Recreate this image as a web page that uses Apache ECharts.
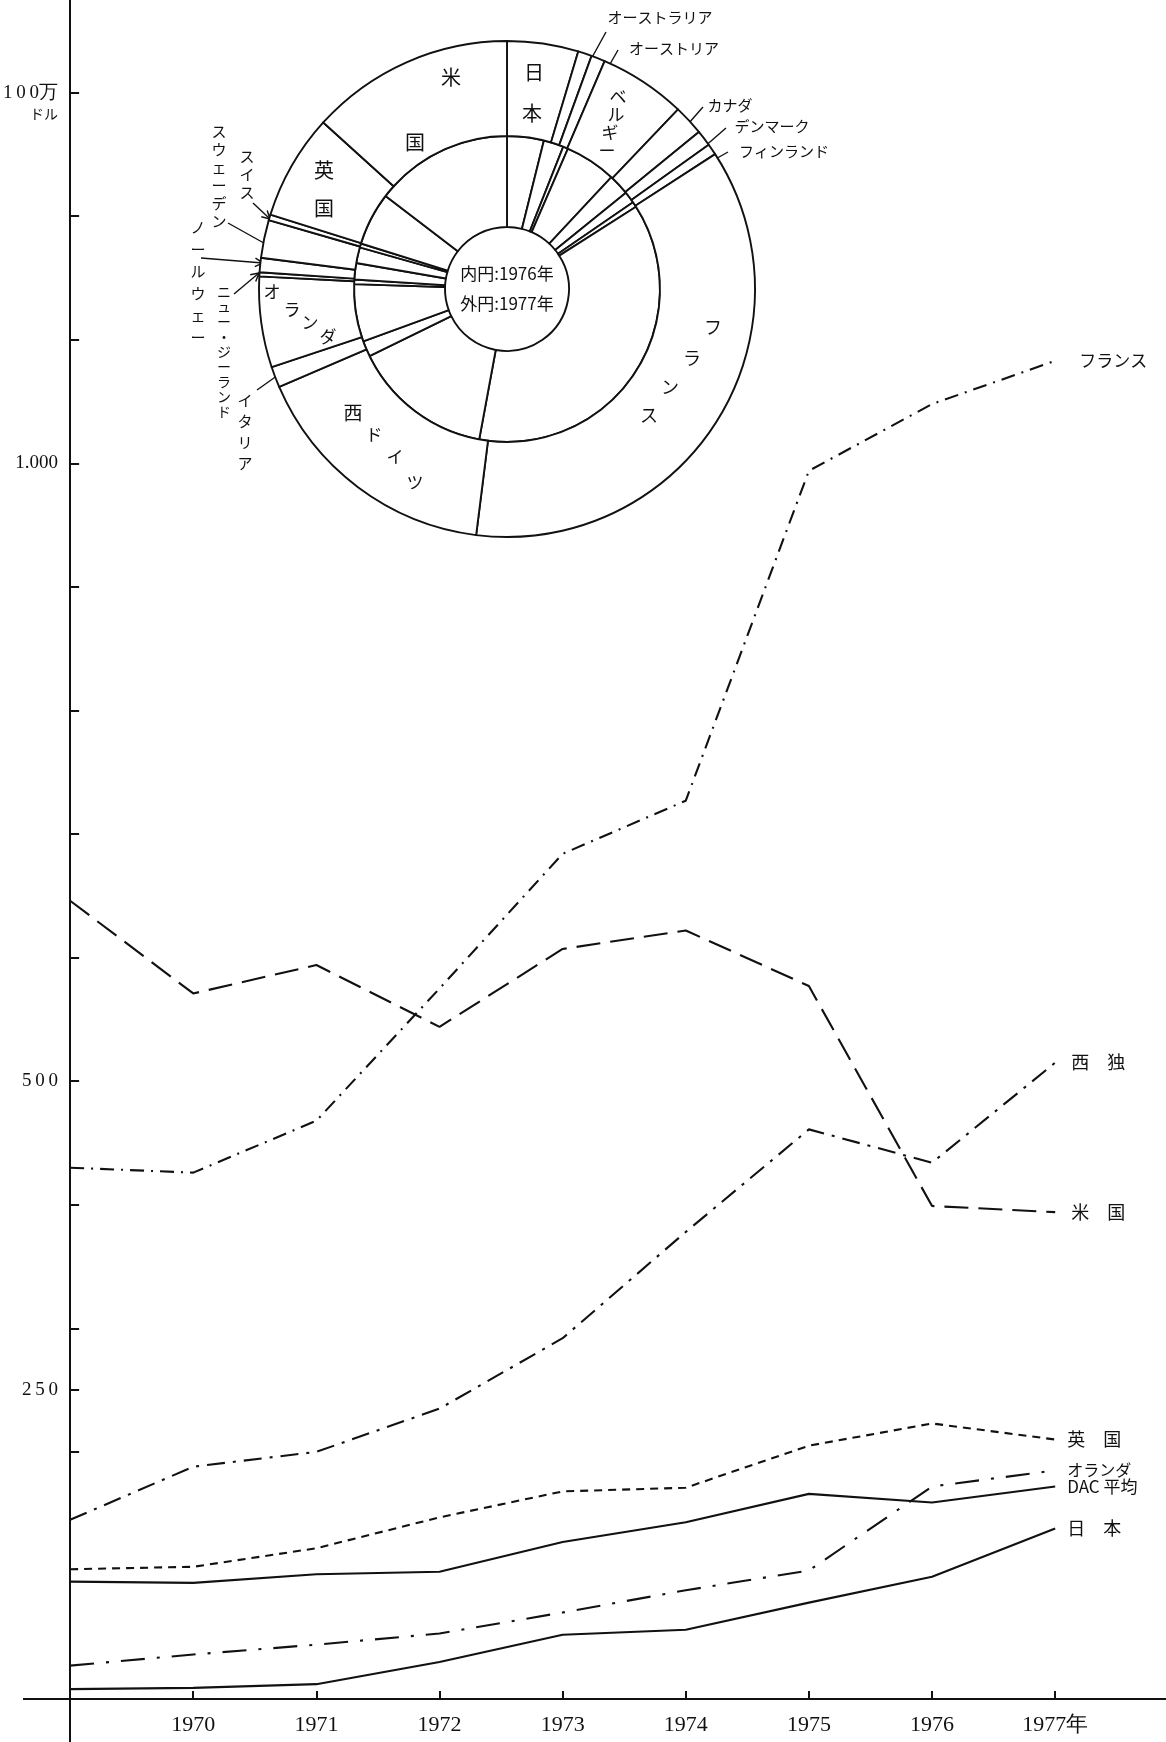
<!DOCTYPE html>
<html><head><meta charset="utf-8">
<script src="https://cdn.jsdelivr.net/npm/echarts@6/dist/echarts.min.js"></script>
<style>html,body{margin:0;padding:0;background:#fff}#c{width:1166px;height:1742px}</style>
</head><body><div id="c"></div>
<script>
// ---- data (million US$) ----
const years = [1969, 1970, 1971, 1972, 1973, 1974, 1975, 1976, 1977];
const xTickYears = [1970, 1971, 1972, 1973, 1974, 1975, 1976, 1977];
const yTickValues = [200, 250, 300, 400, 500, 600, 700, 800, 900, 1000, 1100, 1200, 1300];
const yLabelValues = [250, 500, 1000, 1300];

const france  = [430, 426, 468, 575, 684, 727, 994, 1048, 1083];
const usa     = [646, 571, 594, 544, 607, 622, 577, 399, 394];
const wgermany= [145, 188, 200, 235, 292, 378, 461, 434, 515];
const uk      = [105, 107, 122, 147, 168, 171, 205, 223, 210];
const nether  = [27, 36, 44, 53, 70, 88, 104, 172, 185];
const dacAvg  = [95, 94, 101, 103, 127, 143, 166, 159, 172];
const japan   = [8, 9, 12, 30, 52, 56, 78, 99, 138];

const pieCountries = ['日本','オーストラリア','オーストリア','ベルギー','カナダ','デンマーク','フィンランド','フランス','西ドイツ','イタリア','オランダ','ニュー・ジーランド','ノールウェー','スウェーデン','スイス','英国','米国'];
const pie1976 = [110, 60, 15, 154, 63, 35, 16, 1048, 422, 47, 172, 14, 49, 47, 12, 159, 414];
const pie1977 = [139, 27, 27, 170, 59, 31, 22, 1083, 496, 41, 177, 8, 28, 74, 11, 206, 398];

// ---- build ----
const serif = '"Liberation Serif","DejaVu Serif",serif';
const jp = '"Noto Sans CJK JP",sans-serif';
const INK = '#111';

function lineSeries(name, vals, dash, label, dist, fs) {
  return {
    type: 'line', name: name, data: years.map((y, i) => [y, vals[i]]),
    showSymbol: false, symbol: 'none', silent: true,
    lineStyle: { color: INK, width: 2.1, type: dash },
    endLabel: { show: true, formatter: label, distance: dist, fontSize: fs || 18, fontFamily: jp, color: INK },
    z: 5
  };
}
function pieSeries(vals, radius, z) {
  return {
    type: 'pie', center: [507, 289], radius: radius, startAngle: 90, clockwise: true,
    silent: true, label: { show: false }, labelLine: { show: false },
    itemStyle: { color: '#fff', borderColor: INK, borderWidth: 1.9 },
    data: pieCountries.map((n, i) => ({ name: n, value: vals[i] })), z: z
  };
}
function T(s, x, y, size, lh, font) {
  return { type: 'text', x: x, y: y, z: 100, silent: true,
    style: { text: s, fontSize: size, fontFamily: font || jp, fill: INK, align: 'center', verticalAlign: 'middle', lineHeight: lh || size } };
}
function V(s, x, y, size, lh) { return T(s.split('').join('\n'), x, y, size, lh); }
function arrow(x1, y1, x2, y2) {
  const a = Math.atan2(y2 - y1, x2 - x1), L = 9, w = 0.5;
  return { type: 'group', z: 100, silent: true, children: [
    { type: 'polyline', shape: { points: [[x1, y1], [x2, y2]] }, style: { stroke: INK, lineWidth: 1.4, fill: null } },
    { type: 'polyline', shape: { points: [[x2 - L * Math.cos(a - w), y2 - L * Math.sin(a - w)], [x2, y2], [x2 - L * Math.cos(a + w), y2 - L * Math.sin(a + w)]] }, style: { stroke: INK, lineWidth: 1.4, fill: null } }
  ]};
}
const sp = s => s.split('').join('\u2009');

const graphics = [
  // axis extensions (cross at origin)
  { type: 'line', shape: { x1: 23, y1: 1699, x2: 70, y2: 1699 }, style: { stroke: INK, lineWidth: 2 }, z: 50 },
  { type: 'line', shape: { x1: 70, y1: 1699, x2: 70, y2: 1742 }, style: { stroke: INK, lineWidth: 2 }, z: 50 },
  // centre text
  T('内円:1976年', 507, 274, 17), T('外円:1977年', 507, 304, 17),
  // in-ring labels
  T('米', 451, 77, 20), T('国', 415, 142, 20),
  T('日', 534, 72, 20), T('本', 532, 113, 20),
  T('ベ', 618, 97, 17), T('ル', 616, 115, 17), T('ギ', 610, 133, 17), T('ー', 607, 151, 17),
  T('英', 324, 170, 20), T('国', 324, 208, 20),
  T('オ', 272, 292, 17), T('ラ', 292, 310, 17), T('ン', 310, 323, 17), T('ダ', 328, 337, 17),
  T('西', 353, 413, 19), T('ド', 374, 435, 17), T('イ', 395, 457, 17), T('ツ', 415, 483, 17),
  T('フ', 713, 327, 18), T('ラ', 692, 358, 18), T('ン', 670, 387, 18), T('ス', 649, 415, 18),
  // outside labels (right)
  T('オーストラリア', 660, 17, 15), arrow(606, 32, 584, 72),
  T('オーストリア', 674, 48, 15), arrow(618, 50, 601, 80),
  T('カナダ', 730, 105, 15), arrow(703, 107, 674, 140),
  T('デンマーク', 772, 126, 15), arrow(726, 128, 695, 155),
  T('フィンランド', 784, 151, 15), arrow(728, 152, 705, 165),
  // outside labels (left, vertical)
  V('スイス', 247, 174, 15, 18), arrow(253, 203, 270, 219),
  V('スウェーデン', 219, 176, 15, 18), arrow(228, 223, 271, 247),
  V('ノールウェー', 198, 282, 15, 22), arrow(201, 258, 263, 263),
  V('ニュー・ジーランド', 224, 352, 14, 15), arrow(234, 294, 259, 273),
  V('イタリア', 245, 432, 15, 21), arrow(257, 390, 288, 368)
];

const chart = echarts.init(document.getElementById('c'), null, { renderer: 'canvas' });
chart.setOption({
  animation: false,
  backgroundColor: '#fff',
  grid: { left: 70, right: 0, top: 0, bottom: 43, containLabel: false },
  xAxis: {
    type: 'value', min: 1969, max: 1977.9,
    axisLine: { show: true, lineStyle: { color: INK, width: 2 } },
    splitLine: { show: false },
    axisTick: { show: true, inside: true, length: 8, lineStyle: { color: INK, width: 2 }, customValues: xTickYears },
    axisLabel: { show: true, customValues: xTickYears, margin: 15, fontFamily: serif, fontSize: 22, color: INK,
      formatter: v => v === 1977 ? '1977年' : String(v) }
  },
  yAxis: {
    type: 'value', min: 0, max: 1375,
    axisLine: { show: true, lineStyle: { color: INK, width: 2 } },
    splitLine: { show: false },
    axisTick: { show: true, inside: true, length: 9, lineStyle: { color: INK, width: 2 }, customValues: yTickValues },
    axisLabel: { show: true, customValues: yLabelValues, margin: 12, fontFamily: serif, fontSize: 19, color: INK,
      formatter: v => v === 1000 ? '1.000' : (v === 1300 ? '{e| }\n{a|' + sp('100') + '万}\n{b|ドル}' : sp(String(v))),
      rich: {
        e: { fontSize: 14, lineHeight: 19 },
        a: { fontSize: 19, fontFamily: serif, lineHeight: 24, color: INK },
        b: { fontSize: 14, fontFamily: jp, lineHeight: 19, color: INK }
      } }
  },
  series: [
    lineSeries('フランス', france, [14, 7, 2, 7], 'フランス', 24, 17),
    lineSeries('米国', usa, [24, 10], '米　国', 16),
    lineSeries('西独', wgermany, [18, 8, 3, 8], '西　独', 16),
    lineSeries('英国', uk, [8, 6], '英　国', 12),
    lineSeries('オランダ', nether, [24, 12, 3, 12], 'オランダ', 12, 16),
    lineSeries('DAC平均', dacAvg, 'solid', 'DAC 平均', 12, 17),
    lineSeries('日本', japan, 'solid', '日　本', 12),
    pieSeries(pie1976, [62, 153], 10),
    pieSeries(pie1977, [153, 248], 10)
  ],
  graphic: graphics
});
</script>
</body></html>
